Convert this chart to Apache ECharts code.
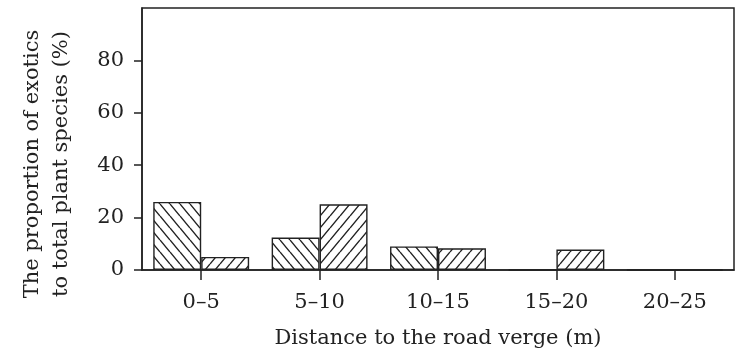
<!DOCTYPE html>
<html>
<head>
<meta charset="utf-8">
<script src="https://cdn.jsdelivr.net/npm/echarts@6/dist/echarts.min.js"></script>
<style>
  html, body { margin: 0; padding: 0; background: #fff; }
  #chart { width: 735px; height: 357px; }
</style>
</head>
<body>
<div id="chart"></div>
<script>
// Distance bands from the road verge (m)
const distanceBands = ['0\u20135', '5\u201310', '10\u201315', '15\u201320', '20\u201325'];
// Proportion of exotic species (%), two groups per band
const seriesBackHatch = [26.0, 12.4, 9.0, 0, 0];
const seriesForwardHatch = [5.0, 25.1, 8.3, 7.8, 0];
const yTicks = [0, 20, 40, 60, 80];

const ink = '#222';
const serif = '"DejaVu Serif", "Liberation Serif", serif';
const fontSize = 21;

// Build a repeating diagonal hatch tile (slightly steeper than 45 degrees)
function hatch(direction) {
  const w = 10, h = 12;
  const c = document.createElement('canvas');
  c.width = w; c.height = h;
  const g = c.getContext('2d');
  g.fillStyle = '#fff';
  g.fillRect(0, 0, w, h);
  g.strokeStyle = ink;
  g.lineWidth = 1.4;
  g.beginPath();
  for (const o of [-w, 0, w]) {
    if (direction === 'back') { g.moveTo(o, 0); g.lineTo(o + w, h); }
    else { g.moveTo(o, h); g.lineTo(o + w, 0); }
  }
  g.stroke();
  return { image: c, repeat: 'repeat' };
}

const chart = echarts.init(document.getElementById('chart'), null, { renderer: 'canvas' });
chart.setOption({
  animation: false,
  grid: {
    left: 142, right: 1, top: 8, bottom: 87,
    outerBoundsMode: 'none',
    containLabel: false,
    show: true, borderColor: ink, borderWidth: 1.5, backgroundColor: 'transparent'
  },
  xAxis: {
    type: 'category',
    data: distanceBands,
    name: 'Distance to the road verge (m)',
    nameLocation: 'middle',
    nameGap: 58,
    nameTextStyle: { fontFamily: serif, fontSize: fontSize, color: ink },
    axisLine: { lineStyle: { color: ink, width: 1.5 } },
    axisTick: { show: true, alignWithLabel: true, length: 10, lineStyle: { color: ink, width: 1.5 } },
    axisLabel: { fontFamily: serif, fontSize: fontSize, color: ink, margin: 22 }
  },
  yAxis: {
    type: 'value',
    min: 0, max: 100, interval: 20,
    name: 'The proportion of exotics\nto total plant species (%)',
    nameLocation: 'middle',
    nameGap: 66,
    nameRotate: 90,
    nameTextStyle: {
      fontFamily: serif, fontSize: fontSize, color: ink, lineHeight: 29,
      padding: [0, 50, 0, 0]
    },
    splitLine: { show: false },
    axisLine: { show: true, lineStyle: { color: ink, width: 1.5 } },
    axisTick: { show: true, length: 8, customValues: yTicks, lineStyle: { color: ink, width: 1.5 } },
    axisLabel: {
      fontFamily: serif, fontSize: fontSize, color: ink, margin: 18,
      customValues: yTicks
    }
  },
  series: [
    {
      type: 'bar',
      data: seriesBackHatch,
      barGap: '0%',
      barCategoryGap: '19%',
      itemStyle: { color: hatch('back'), borderColor: ink, borderWidth: 1.4 }
    },
    {
      type: 'bar',
      data: seriesForwardHatch,
      barGap: '0%',
      barCategoryGap: '19%',
      itemStyle: { color: hatch('forward'), borderColor: ink, borderWidth: 1.4 }
    }
  ]
});
</script>
</body>
</html>
